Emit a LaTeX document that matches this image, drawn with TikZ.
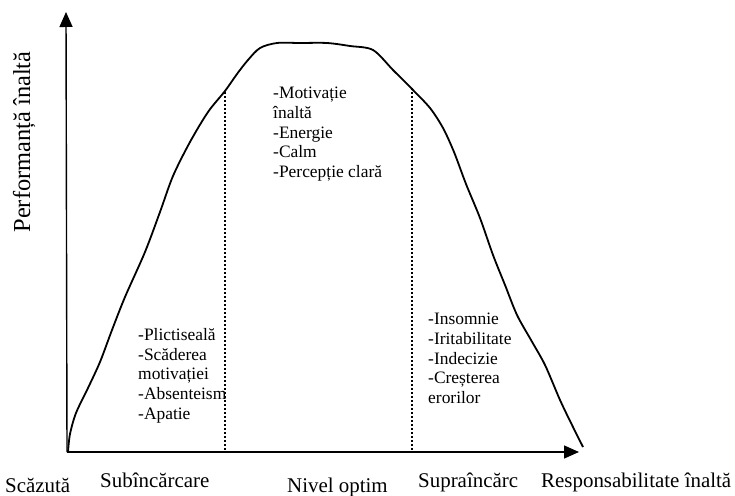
\documentclass[tikz,border=0pt]{standalone}
\usepackage{fontspec}
\setmainfont{Liberation Serif}
\usetikzlibrary{arrows.meta}
\begin{document}
\begin{tikzpicture}[x=1bp,y=-1bp,
  axis/.style={line width=1.4bp,-{Triangle[length=15bp,width=13bp]}},
  curve/.style={line width=1.8bp,line join=round},
  divider/.style={line width=2.4bp,dash pattern=on 2bp off 2bp},
  symptoms/.style={anchor=north west,inner sep=0pt,align=left,
    font=\fontsize{17.5}{19.8}\selectfont},
  axislabel/.style={anchor=base west,inner sep=0pt,
    font=\fontsize{21}{24}\selectfont}]
\useasboundingbox (0,0) rectangle (735,496);

% axes
\coordinate (O) at (67,452);
\coordinate (ytop) at (66,12);
\coordinate (xend) at (579,452);
\draw[axis] (O) -- (ytop);
\draw[axis] (O) -- (xend);

% performance curve
\draw[curve] plot[smooth,tension=0.5] coordinates {
  (68,452) (70,434) (76,413) (88,388) (100,362) (112,330)
  (125,297) (145,252) (160,212) (173,176) (190,142) (208,112)
  (225,91) (237,74) (248,60) (260,48) (277,43) (300,43) (327,43)
  (350,46) (373,50) (393,70) (412,89) (430,108) (443,128) (454,152)
  (466,184) (480,218) (493,255) (505,285) (517,315) (531,340)
  (545,365) (560,400) (572,425) (583,447)};

% zone dividers
\coordinate (d1top) at (225,92);
\coordinate (d1bot) at (225,452);
\coordinate (d2top) at (412,88);
\coordinate (d2bot) at (412,452);
\draw[divider] (d1top) -- (d1bot);
\draw[divider] (d2top) -- (d2bot);

% symptoms in each zone
\node[symptoms] (low) at (138,328) {-Plictiseală\\-Scăderea\\motivației\\-Absenteism\\-Apatie};
\node[symptoms] (mid) at (273,87) {-Motivație\\înaltă\\-Energie\\-Calm\\-Percepție clară};
\node[symptoms] (high) at (428,313) {-Insomnie\\-Iritabilitate\\-Indecizie\\-Creșterea\\erorilor};

% axis labels
\node[anchor=base,inner sep=0pt,rotate=90,font=\fontsize{24.5}{28}\selectfont]
  (ylab) at (30,142) {Performanță înaltă};
\node[axislabel] (l0) at (5,492) {Scăzută};
\node[axislabel] (l1) at (100,487) {Subîncărcare};
\node[axislabel] (l2) at (287,492) {Nivel optim};
\node[axislabel] (l3) at (418,487) {Supraîncărc};
\node[axislabel] (l4) at (541,487) {Responsabilitate înaltă};
\end{tikzpicture}
\end{document}
